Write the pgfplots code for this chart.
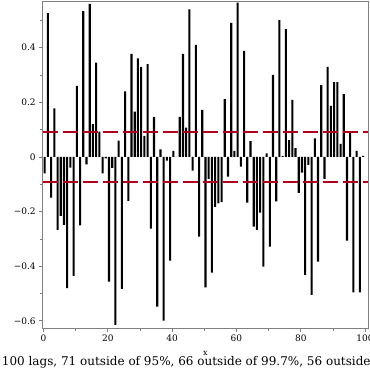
\documentclass[border=0pt]{standalone}
\usepackage{pgfplots}
\usepackage{pgfplotstable}
\pgfplotsset{compat=1.18}
\usepackage{fontspec}
\setmainfont{DejaVu Serif}
\definecolor{dred}{RGB}{175,0,30}
\definecolor{fgray}{RGB}{128,128,128}
\pgfplotstableread{
k v
1 -0.060
2 0.526
3 -0.149
4 0.178
5 -0.267
6 -0.216
7 -0.249
8 -0.480
9 -0.039
10 -0.435
11 0.260
12 -0.250
13 0.534
14 -0.027
15 0.560
16 0.120
17 0.345
18 0.093
19 -0.060
20 -0.005
21 -0.456
22 -0.040
23 -0.615
24 0.060
25 -0.483
26 0.240
27 -0.161
28 0.377
29 0.166
30 0.361
31 0.330
32 0.077
33 0.340
34 -0.262
35 0.147
36 -0.548
37 0.028
38 -0.599
39 -0.013
40 -0.379
41 0.022
42 0.000
43 0.147
44 0.377
45 0.107
46 0.540
47 -0.050
48 0.410
49 -0.292
50 0.172
51 -0.477
52 -0.080
53 -0.423
54 -0.183
55 -0.170
56 -0.165
57 0.212
58 -0.072
59 0.491
60 0.022
61 0.565
62 -0.035
63 0.388
64 -0.167
65 0.058
66 -0.255
67 -0.267
68 -0.204
69 -0.401
70 0.013
71 -0.328
72 0.300
73 -0.163
74 0.501
75 0.004
76 0.468
77 0.062
78 0.209
79 0.032
80 -0.131
81 -0.057
82 -0.432
83 -0.029
84 -0.505
85 0.068
86 -0.383
87 0.263
88 -0.080
89 0.330
90 0.187
91 0.274
92 0.274
93 0.048
94 0.230
95 -0.306
96 0.089
97 -0.496
98 0.022
99 -0.496
100 0.004
}\acf
\begin{document}
\begin{tikzpicture}
\begin{axis}[
  scale only axis, width=325.6pt, height=326.5pt,
  xmin=-0.25, xmax=101.0, ymin=-0.626, ymax=0.569,
  axis line style={fgray, line width=1pt},
  xtick={0,20,40,60,80,100}, minor xtick={10,30,50,70,90},
  ytick={-0.6,-0.4,-0.2,0,0.2,0.4}, minor ytick={-0.5,-0.3,-0.1,0.1,0.3,0.5},
  yticklabels={−0.6,−0.4,−0.2,0,0.2,0.4},
  tick align=outside, tick pos=left,
  major tick length=3.5pt, minor tick length=3pt,
  every tick/.style={fgray, line width=0.8pt},
  tick label style={font=\fontsize{9}{10}\selectfont},
  /pgf/number format/assume math mode=true,
  xlabel={x}, xlabel style={font=\fontsize{8}{9}\selectfont, inner sep=0pt, yshift=-6pt},
  clip=true,
]
\addplot[fill=black, draw=none, ybar, bar width=0.65]
  table[x expr=\thisrow{k}-0.63, y=v] {\acf};
\addplot[draw=dred, line width=1.8pt, dash pattern=on 15pt off 5pt, mark=none]
  coordinates {(-0.25,0.0905) (101,0.0905)};
\addplot[draw=dred, line width=1.8pt, dash pattern=on 15pt off 5pt, mark=none]
  coordinates {(-0.25,-0.0915) (101,-0.0915)};
\end{axis}
\node[anchor=west, font=\fontsize{12}{14}\selectfont, inner sep=0pt]
  at ([xshift=-41pt, yshift=-34pt]current axis.south west)
  {100 lags, 71 outside of 95\%, 66 outside of 99.7\%, 56 outside of 99.99\%};
\pgfresetboundingbox
\path ([xshift=-42.7pt,yshift=-42pt]current axis.south west) rectangle ([xshift=1.7pt,yshift=1.5pt]current axis.north east);
\end{tikzpicture}
\end{document}
